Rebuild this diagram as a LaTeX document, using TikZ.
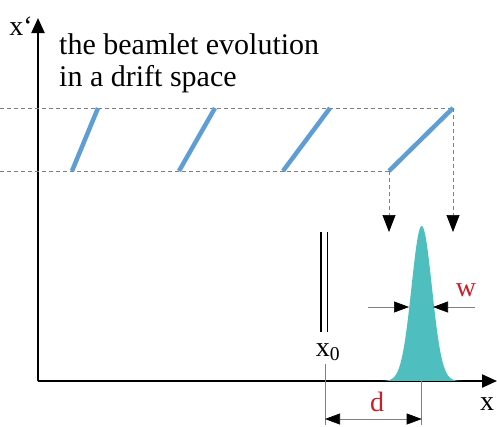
\documentclass[tikz,border=0pt]{standalone}
\usepackage{fontspec}
\setmainfont{Liberation Serif}
\usetikzlibrary{arrows.meta}
\definecolor{beamblue}{RGB}{95,158,212}
\definecolor{beamteal}{RGB}{78,190,190}
\definecolor{labelred}{RGB}{205,30,40}
\tikzset{dimtip/.tip={Triangle[length=15pt, width=11pt, black]}}

\begin{document}
\begin{tikzpicture}[x=1pt, y=-1pt,
    every node/.style={font=\fontsize{28}{32}\selectfont, inner sep=0pt},
    axis/.style={line width=2.2pt, -{Triangle[length=15pt, width=13pt]}},
    guide/.style={gray, line width=0.7pt, dash pattern=on 4pt off 3pt},
    drop/.style={guide, -{Triangle[length=17pt, width=13pt, black]}},
    beamlet/.style={beamblue, line width=4.5pt},
    dimline/.style={gray, line width=0.6pt},
    redlabel/.style={text=labelred}
]
\useasboundingbox (0,0) rectangle (497,426);
% axes
\coordinate (O) at (38,381);
\coordinate (ytop) at (38,18);
\coordinate (xend) at (497,381);
\draw[axis] (O) -- (ytop);
\draw[axis] (O) -- (xend);
\node (ylabel) at (21,26) {x`};
\node (xlabel) at (487,404) {x};
\node[anchor=base west, align=left, font=\fontsize{30}{32}\selectfont] (title) at (59,86)
  {the beamlet evolution\\in a drift space};
% phase-space beamlets
\coordinate (topleft) at (0,108);
\coordinate (botleft) at (0,171);
\foreach \i/\lo/\hi in {1/72/98, 2/179/215, 3/283/330, 4/389/453} {
  \coordinate (b\i lo) at (\lo,171);
  \coordinate (b\i hi) at (\hi,108);
}
\draw[guide] (topleft) -- (b4hi);
\draw[guide] (botleft) -- (b4lo);
\foreach \i in {1,...,4}
  \draw[beamlet] (b\i lo) -- (b\i hi);
% projection onto x
\coordinate (dropL) at (389,232);
\coordinate (dropR) at (453,232);
\draw[drop] (b4lo) -- (dropL);
\draw[drop] (b4hi) -- (dropR);
% beam profile
\fill[beamteal] plot[domain=381:462, samples=90]
  (\x, {381-155*exp(-((\x-421.7)^2)/(2*10.2*10.2))}) -- cycle;
% slit at x0
\coordinate (slittop) at (324,232);
\coordinate (slitbot) at (324,332);
\draw[line width=1.6pt, double, double distance=5pt] (slittop) -- (slitbot);
\node (xzero) at (328,352) {x\textsubscript{0}};
% width w
\coordinate (wleft) at (368,307);
\coordinate (wlefttip) at (409,307);
\coordinate (wright) at (475,307);
\coordinate (wrighttip) at (433,307);
\draw[dimline, -dimtip] (wleft) -- (wlefttip);
\draw[dimline, -dimtip] (wright) -- (wrighttip);
\node[redlabel] (wlabel) at (466,290) {w};
% distance d
\coordinate (dleft) at (325,364);
\coordinate (dleftbot) at (325,425);
\coordinate (dright) at (421.7,381);
\coordinate (drightbot) at (421.7,425);
\draw[dimline] (dleft) -- (dleftbot);
\draw[dimline] (dright) -- (drightbot);
\coordinate (darrowL) at (325,419);
\coordinate (darrowR) at (421.7,419);
\draw[dimline, dimtip-dimtip] (darrowL) -- (darrowR);
\node[redlabel] (dlabel) at (377,402) {d};
\end{tikzpicture}
\end{document}
